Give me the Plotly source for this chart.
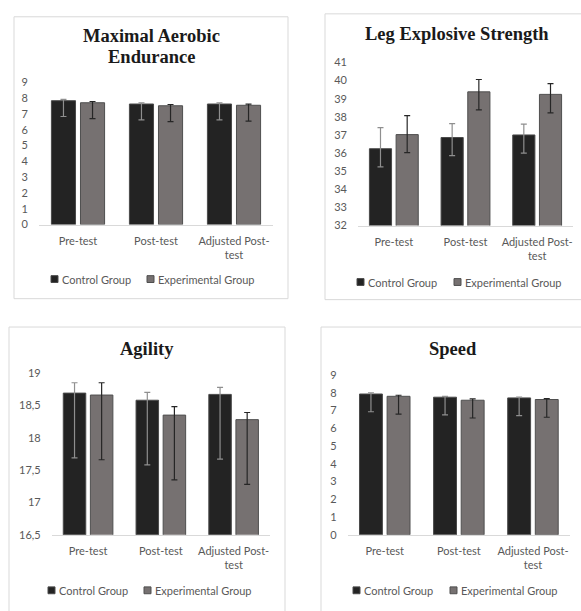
import plotly.graph_objects as go

W, H = 581, 611

categories = ["Pre-test", "Post-test", "Adjusted Post-test"]
cat_ticktext = ["Pre-test", "Post-test", "Adjusted Post-<br>test"]
series_names = ["Control Group", "Experimental Group"]

# Maximal Aerobic Endurance
mae_control = [7.84, 7.63, 7.63]
mae_control_plus = [0.08, 0.07, 0.07]
mae_control_minus = [1.0, 1.0, 1.0]
mae_exp = [7.71, 7.52, 7.55]
mae_exp_plus = [0.08, 0.08, 0.07]
mae_exp_minus = [1.0, 1.0, 1.0]

# Leg Explosive Strength
les_control = [36.24, 36.86, 37.0]
les_control_plus = [1.16, 0.77, 0.6]
les_control_minus = [1.0, 1.0, 1.0]
les_exp = [37.02, 39.38, 39.24]
les_exp_plus = [1.05, 0.68, 0.59]
les_exp_minus = [1.0, 1.0, 1.02]

# Agility
agi_control = [18.69, 18.58, 18.67]
agi_control_plus = [0.16, 0.12, 0.11]
agi_control_minus = [1.0, 1.0, 1.0]
agi_exp = [18.66, 18.35, 18.28]
agi_exp_plus = [0.19, 0.13, 0.11]
agi_exp_minus = [1.0, 1.0, 1.0]

# Speed
spd_control = [7.93, 7.75, 7.71]
spd_control_plus = [0.07, 0.05, 0.05]
spd_control_minus = [1.0, 1.0, 1.0]
spd_exp = [7.80, 7.58, 7.62]
spd_exp_plus = [0.06, 0.07, 0.05]
spd_exp_minus = [1.0, 1.0, 1.0]

ticks_0_9 = [0, 1, 2, 3, 4, 5, 6, 7, 8, 9]
ticks_les = [32, 33, 34, 35, 36, 37, 38, 39, 40, 41]
ticks_agi = [16.5, 17, 17.5, 18, 18.5, 19]
ticks_agi_text = ["16,5", "17", "17,5", "18", "18,5", "19"]

CTRL_FILL, CTRL_LINE, CTRL_ERR = "#232323", "#4a4a4a", "#8f8f8f"
EXP_FILL, EXP_LINE, EXP_ERR = "#767171", "#4f4f4f", "#262626"
TXT = "#595959"
FONT = "Lato, Open Sans, sans-serif"


def fx(px):
    return px / W


def fy(py):
    return 1 - py / H


panels = [
    dict(titles=[("Maximal Aerobic", 151, 30), ("Endurance", 151, 51.5)],
         xd=(39, 273), yd=(77, 222.3), rng=[0, 9], tv=ticks_0_9, tt=None,
         frame=(14, 10, 288, 298), leg_y=278, leg_sq=(51, 147),
         c=(mae_control, mae_control_plus, mae_control_minus),
         e=(mae_exp, mae_exp_plus, mae_exp_minus)),
    dict(titles=[("Leg Explosive Strength", 457, 28)],
         xd=(358, 573), yd=(56.7, 223.3), rng=[32, 41], tv=ticks_les, tt=None,
         frame=(325, 7, 590, 299), leg_y=281, leg_sq=(357, 454),
         c=(les_control, les_control_plus, les_control_minus),
         e=(les_exp, les_exp_plus, les_exp_minus)),
    dict(titles=[("Agility", 147, 349)],
         xd=(51.7, 270), yd=(374, 539.3), rng=[16.5, 19], tv=ticks_agi, tt=ticks_agi_text,
         frame=(9, 327, 285, 620), leg_y=596, leg_sq=(48, 144),
         c=(agi_control, agi_control_plus, agi_control_minus),
         e=(agi_exp, agi_exp_plus, agi_exp_minus)),
    dict(titles=[("Speed", 453, 349)],
         xd=(347.7, 570), yd=(376, 539.3), rng=[0, 9], tv=ticks_0_9, tt=None,
         frame=(321, 327, 590, 620), leg_y=596, leg_sq=(353, 450),
         c=(spd_control, spd_control_plus, spd_control_minus),
         e=(spd_exp, spd_exp_plus, spd_exp_minus)),
]

fig = go.Figure()
layout = dict(
    width=W, height=H, margin=dict(l=0, r=0, t=0, b=0),
    paper_bgcolor="white", plot_bgcolor="white",
    barmode="group", bargap=0.255, bargroupgap=0.17,
    font=dict(family=FONT, size=11, color=TXT),
    showlegend=False,
)
shapes = []
annotations = []

styles = [(CTRL_FILL, CTRL_LINE, CTRL_ERR), (EXP_FILL, EXP_LINE, EXP_ERR)]

for i, p in enumerate(panels):
    n = "" if i == 0 else str(i + 1)
    xa, ya = "x" + n, "y" + n
    for k, (name, (vals, plus, minus)) in enumerate(zip(series_names, [p["c"], p["e"]])):
        fill, line, ecol = styles[k]
        fig.add_trace(go.Bar(
            x=categories, y=vals, name=name, xaxis=xa, yaxis=ya,
            marker=dict(color=fill, line=dict(color=line, width=1)),
            error_y=dict(type="data", symmetric=False, array=plus, arrayminus=minus,
                         color=ecol, thickness=1.2, width=3),
        ))
        # legend entry: small square + label
        sx = p["leg_sq"][k]
        ly = p["leg_y"]
        shapes.append(dict(type="rect", xref="paper", yref="paper",
                           x0=fx(sx), x1=fx(sx + 7), y0=fy(ly + 3.5), y1=fy(ly - 3.5),
                           fillcolor=fill, line=dict(color=line, width=1)))
        annotations.append(dict(text=name, xref="paper", yref="paper",
                                x=fx(sx + 8.5), y=fy(ly), xanchor="left", yanchor="middle",
                                showarrow=False,
                                font=dict(family=FONT, size=11, color=TXT)))
    layout["xaxis" + n] = dict(
        domain=[fx(p["xd"][0]), fx(p["xd"][1])], anchor=ya,
        tickmode="array", tickvals=categories, ticktext=cat_ticktext,
        showline=True, linecolor="#d9d9d9", linewidth=1, ticks="",
        showgrid=False, zeroline=False, ticklabelstandoff=6,
        tickfont=dict(size=11, color=TXT, family=FONT),
    )
    yax = dict(
        domain=[fy(p["yd"][1]), fy(p["yd"][0])], anchor=xa,
        range=p["rng"], tickmode="array", tickvals=p["tv"],
        showline=False, showgrid=False, zeroline=False, ticks="",
        ticklabelstandoff=10, tickfont=dict(size=11, color=TXT, family=FONT),
    )
    if p["tt"] is not None:
        yax["ticktext"] = p["tt"]
    layout["yaxis" + n] = yax
    x0, y0, x1, y1 = p["frame"]
    shapes.append(dict(type="rect", xref="paper", yref="paper",
                       x0=fx(x0), x1=fx(x1), y0=fy(y1), y1=fy(y0),
                       line=dict(color="#d9d9d9", width=1), layer="below"))
    for (t, tx, ty) in p["titles"]:
        annotations.append(dict(text="<b>" + t + "</b>", xref="paper", yref="paper",
                                x=fx(tx), y=fy(ty),
                                xanchor="center", yanchor="middle", showarrow=False,
                                font=dict(family="Liberation Serif, Times New Roman, serif",
                                          size=18.5, color="#1a1a1a")))

layout["shapes"] = shapes
layout["annotations"] = annotations
fig.update_layout(**layout)

fig.write_html("out.html", config={"displayModeBar": False},
               post_script="document.body.style.margin='0';")
